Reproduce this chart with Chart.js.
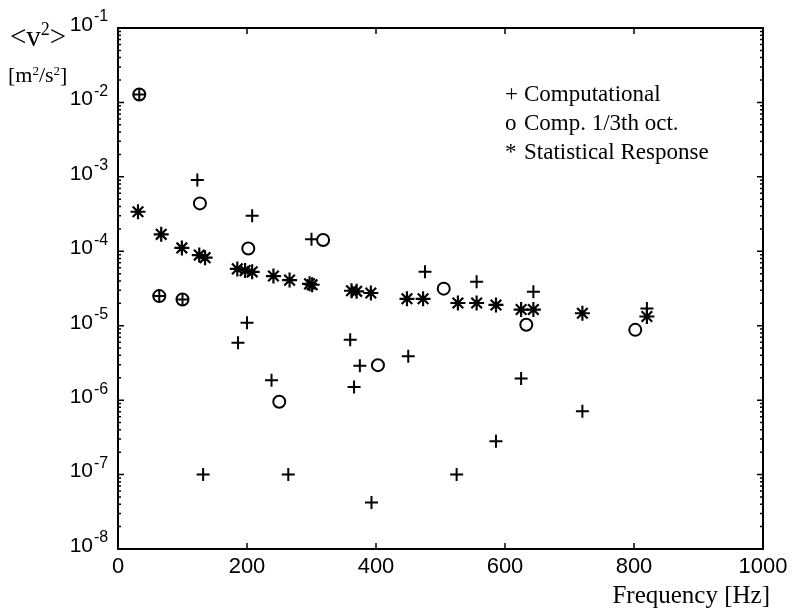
<!DOCTYPE html>
<html>
<head>
<meta charset="utf-8">
<script src="https://cdn.jsdelivr.net/npm/chart.js@4"></script>
<style>
  body { margin:0; background:#fff; }
  #wrap { width:792px; height:616px; }
</style>
</head>
<body>
<div id="wrap"><canvas id="chart" width="792" height="616"></canvas></div>
<script>
// values (Hz, m^2/s^2)
const compFreq = [33, 64, 100, 123, 132, 186, 200, 208, 238, 264, 300, 360, 366, 375, 393, 450, 476, 525, 556, 586, 625, 644, 720, 820];
const compVal  = [1.28e-2, 2.5e-5, 2.25e-5, 9.1e-4, 1.0e-7, 5.9e-6, 1.1e-5, 3.0e-4, 1.85e-6, 1.0e-7, 1.45e-4, 6.5e-6, 1.5e-6, 2.9e-6, 4.2e-8, 3.9e-6, 5.3e-5, 1.0e-7, 3.9e-5, 2.8e-7, 1.95e-6, 2.85e-5, 7.1e-7, 1.7e-5];

const octFreq = [33, 64, 100, 127, 202, 250, 318, 403, 505, 633, 802];
const octVal  = [1.28e-2, 2.5e-5, 2.25e-5, 4.4e-4, 1.09e-4, 9.5e-7, 1.42e-4, 2.95e-6, 3.15e-5, 1.03e-5, 8.8e-6];

const statFreq = [31, 67, 99, 126, 135, 185, 197, 208, 241, 266, 297, 301, 362, 370, 392, 448, 473, 527, 556, 586, 625, 644, 720, 820];
const statVal  = [3.4e-4, 1.69e-4, 1.11e-4, 8.9e-5, 8.2e-5, 5.8e-5, 5.5e-5, 5.3e-5, 4.65e-5, 4.1e-5, 3.65e-5, 3.55e-5, 2.95e-5, 2.9e-5, 2.75e-5, 2.3e-5, 2.3e-5, 2.02e-5, 2.02e-5, 1.9e-5, 1.65e-5, 1.65e-5, 1.47e-5, 1.33e-5];

const xTicks = [0, 200, 400, 600, 800, 1000];
const yExps  = [-8, -7, -6, -5, -4, -3, -2, -1];
const legendLines = [['+', 'Computational'], ['o', 'Comp. 1/3th oct.'], ['*', 'Statistical Response']];

const pts = (xs, ys) => xs.map((x, i) => ({ x, y: ys[i] }));
const SANS = '"Liberation Sans", Arial, sans-serif';
const SERIF = '"Liberation Serif", "Times New Roman", serif';

// draws runs of [text, isSuperscript] left to right
function drawRuns(ctx, runs, x0, base, size, supSize, rise) {
  let cx = x0;
  runs.forEach(([t, sup]) => {
    ctx.font = (sup ? supSize : size) + 'px ' + SERIF;
    ctx.fillText(t, cx, sup ? base - rise : base);
    cx += ctx.measureText(t).width;
  });
}

// frame, inward ticks, labels and legend text
const decor = {
  id: 'decor',
  afterDraw(chart) {
    const { ctx, chartArea: a, scales: { x, y } } = chart;
    ctx.save();
    ctx.strokeStyle = '#000';
    ctx.fillStyle = '#000';
    ctx.lineWidth = 2;
    ctx.strokeRect(a.left, a.top, a.right - a.left, a.bottom - a.top);

    ctx.lineWidth = 1.5;
    ctx.font = '22px ' + SANS;
    ctx.textAlign = 'center';
    ctx.textBaseline = 'middle';
    xTicks.forEach(v => {
      const px = x.getPixelForValue(v);
      ctx.beginPath();
      ctx.moveTo(px, a.bottom); ctx.lineTo(px, a.bottom - 6);
      ctx.moveTo(px, a.top); ctx.lineTo(px, a.top + 6);
      ctx.stroke();
      ctx.fillText(String(v), px, a.bottom + 18);
    });

    yExps.forEach(e => {
      for (let m = 1; m <= 9; m++) {
        if (e === -1 && m > 1) break;
        const py = y.getPixelForValue(m * Math.pow(10, e));
        const len = m === 1 ? 6 : 3;
        ctx.beginPath();
        ctx.moveTo(a.left, py); ctx.lineTo(a.left + len, py);
        ctx.moveTo(a.right, py); ctx.lineTo(a.right - len, py);
        ctx.stroke();
      }
      const py = y.getPixelForValue(Math.pow(10, e));
      ctx.textBaseline = 'middle';
      ctx.textAlign = 'right';
      ctx.font = '21px ' + SANS;
      ctx.fillText('10', 93, py - 3);
      ctx.textAlign = 'left';
      ctx.font = '16px ' + SANS;
      ctx.fillText('-' + Math.abs(e), 94, py - 11);
    });

    // axis titles
    ctx.textBaseline = 'alphabetic';
    ctx.textAlign = 'left';
    drawRuns(ctx, [['<v', 0], ['2', 1], ['>', 0]], 10, 46, 29, 18, 11);
    drawRuns(ctx, [['[m', 0], ['2', 1], ['/s', 0], ['2', 1], [']', 0]], 8, 82, 22, 13, 7);

    ctx.textAlign = 'right';
    ctx.font = '25px ' + SERIF;
    ctx.fillText('Frequency [Hz]', 770, 603);

    // legend text
    ctx.textAlign = 'left';
    ctx.font = '23px ' + SERIF;
    legendLines.forEach(([sym, label], i) => {
      const by = 101 + i * 29;
      ctx.fillText(sym, 505, by);
      ctx.fillText(label, 524, by);
    });
    ctx.restore();
  }
};

const common = { showLine: false, borderColor: '#000', backgroundColor: 'transparent' };

new Chart(document.getElementById('chart'), {
  type: 'scatter',
  data: {
    datasets: [
      { ...common, label: 'Computational', data: pts(compFreq, compVal), pointStyle: 'cross', pointRadius: 6.5, pointBorderWidth: 2 },
      { ...common, label: 'Comp. 1/3th oct.', data: pts(octFreq, octVal), pointStyle: 'circle', pointRadius: 6, pointBorderWidth: 2 },
      { ...common, label: 'Statistical Response', data: pts(statFreq, statVal), pointStyle: 'star', pointRadius: 7.5, pointBorderWidth: 2.2 }
    ]
  },
  options: {
    responsive: false,
    animation: false,
    devicePixelRatio: 1,
    layout: { padding: { left: 118, right: 29, top: 28, bottom: 67 } },
    plugins: { legend: { display: false }, tooltip: { enabled: false } },
    scales: {
      x: { type: 'linear', min: 0, max: 1000, display: false },
      y: { type: 'logarithmic', min: 1e-8, max: 1e-1, display: false }
    }
  },
  plugins: [decor]
});
</script>
</body>
</html>
